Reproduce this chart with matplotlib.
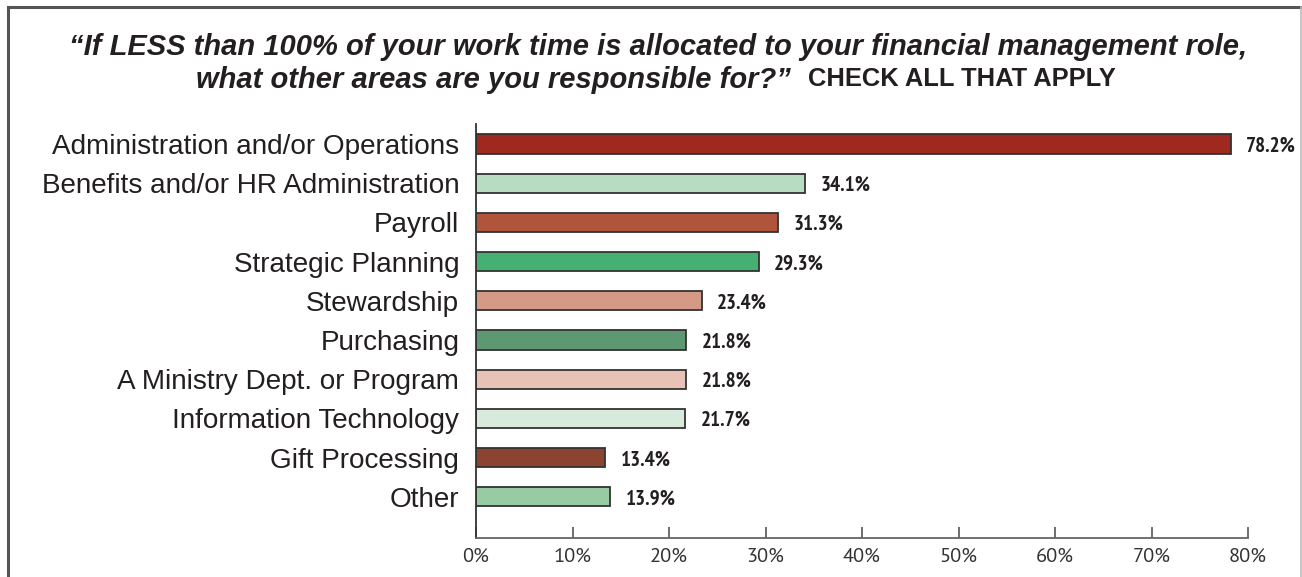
import matplotlib
matplotlib.use("Agg")
import matplotlib.pyplot as plt
from matplotlib import font_manager
from matplotlib.lines import Line2D

categories = [
    "Administration and/or Operations",
    "Benefits and/or HR Administration",
    "Payroll",
    "Strategic Planning",
    "Stewardship",
    "Purchasing",
    "A Ministry Dept. or Program",
    "Information Technology",
    "Gift Processing",
    "Other",
]
values = [78.2, 34.1, 31.3, 29.3, 23.4, 21.8, 21.8, 21.7, 13.4, 13.9]
bar_colors = ["#A0291F", "#B8DCC0", "#B0553B", "#46B073", "#D49A86",
              "#5E9872", "#E6C3B6", "#D8EADC", "#8A4430", "#97CBA3"]
xticks = [0, 10, 20, 30, 40, 50, 60, 70, 80]
xtick_labels = [f"{t}%" for t in xticks]

title_line1 = "\u201cIf LESS than 100% of your work time is allocated to your financial management role,"
title_line2a = "what other areas are you responsible for?\u201d"
title_line2b = "CHECK ALL THAT APPLY"

available = {f.name for f in font_manager.fontManager.ttflist}


def pick(*cands):
    for c in cands:
        if c in available:
            return c
    return "DejaVu Sans"


title_font = pick("Liberation Sans", "Arimo")
value_font = pick("PT Sans Narrow", "Fira Sans Condensed", "Roboto Condensed", "Archivo Narrow")
label_font = pick("Liberation Sans", "Arimo", "DejaVu Sans")
tick_font = pick("PT Sans", "Source Sans 3", "Fira Sans", "Liberation Sans")

W, H = 1302, 577
fig = plt.figure(figsize=(W / 100, H / 100), dpi=100)
renderer = fig.canvas.get_renderer()


def fit(text_obj, target_px):
    """Scale a text's font size so that its rendered width is target_px."""
    w = text_obj.get_window_extent(renderer).width
    text_obj.set_fontsize(text_obj.get_fontsize() * target_px / w)


# axes placement in pixels
x0, x1 = 476, 1248
y_top, y_bot = 124, 538
ax = fig.add_axes([x0 / W, 1 - y_bot / H, (x1 - x0) / W, (y_bot - y_top) / H])

ypos = list(range(len(categories)))
ax.barh(ypos, values, height=0.49, color=bar_colors, edgecolor="#333333", linewidth=1.3)
ax.set_ylim(len(categories) - 1 + 1.05, -0.51)
ax.set_xlim(0, 80)

# value labels
probe = fig.text(0, 0, "78.2%", fontsize=12, fontweight="bold", family=value_font)
fit(probe, 50)
vsize = probe.get_fontsize()
probe.remove()
for y, v in zip(ypos, values):
    ax.annotate(f"{v}%", xy=(v, y), xytext=(11, -1.5), textcoords="offset points",
                ha="left", va="center", fontsize=vsize, fontweight="bold",
                family=value_font, color="#231F20")

# category labels
probe = fig.text(0, 0, categories[0], fontsize=16, family=label_font)
fit(probe, 408)
lsize = probe.get_fontsize()
probe.remove()
ax.set_yticks(ypos)
ax.set_yticklabels(categories, fontsize=lsize, family=label_font, color="#231F20")
ax.tick_params(axis="y", length=0, pad=12)

# x ticks
probe = fig.text(0, 0, "50%", fontsize=12, family=tick_font)
fit(probe, 38)
tsize = probe.get_fontsize()
probe.remove()
ax.set_xticks(xticks)
ax.set_xticklabels(xtick_labels, fontsize=tsize, family=tick_font, color="#333333")
ax.tick_params(axis="x", direction="in", length=8, width=1.2, color="#555555", pad=7)

for s in ["top", "right"]:
    ax.spines[s].set_visible(False)
ax.spines["left"].set_color("#333333")
ax.spines["left"].set_linewidth(1.3)
ax.spines["bottom"].set_color("#666666")
ax.spines["bottom"].set_linewidth(1.3)

# outer frame
fig.add_artist(Line2D([8 / W, 1], [1 - 7 / H, 1 - 7 / H], color="#555555", lw=2.2))
fig.add_artist(Line2D([8 / W, 8 / W], [0, 1 - 7 / H], color="#555555", lw=2.2))
fig.add_artist(Line2D([1300.5 / W, 1300.5 / W], [0, 1 - 7 / H], color="#BBBBBB", lw=1.2))

# title
t1 = fig.text(658 / W, 1 - 47 / H, title_line1, ha="center", va="center", fontsize=19,
              fontweight="bold", style="italic", family=title_font, color="#231F20")
fit(t1, 1176)
t2a = fig.text(195 / W, 1 - 80 / H, title_line2a, ha="left", va="center",
               fontsize=t1.get_fontsize(), fontweight="bold", style="italic",
               family=title_font, color="#231F20")
t2b = fig.text(808 / W, 1 - 79 / H, title_line2b, ha="left", va="center", fontsize=16,
               fontweight="bold", family=title_font, color="#231F20")
fit(t2b, 309)
wa = t2a.get_window_extent(renderer).width
wb = t2b.get_window_extent(renderer).width
gap = 18
start = 656 - (wa + gap + wb) / 2
t2a.set_x(start / W)
t2b.set_x((start + wa + gap) / W)

fig.savefig("out.png", dpi=100)
